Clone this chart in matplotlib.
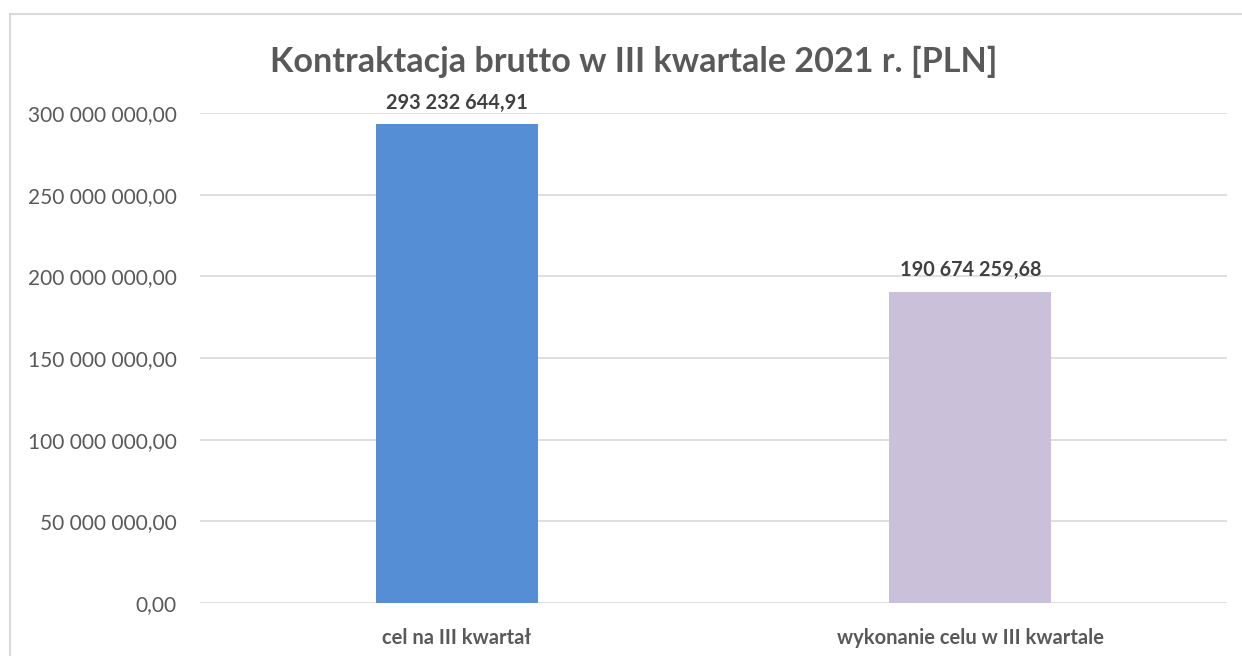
import matplotlib
matplotlib.use("Agg")
import matplotlib.pyplot as plt
from matplotlib.lines import Line2D

categories = ["cel na III kwartał", "wykonanie celu w III kwartale"]
values = [293232644.91, 190674259.68]
colors = ["#558ED5", "#CBC0DA"]
yticks = [0, 50e6, 100e6, 150e6, 200e6, 250e6, 300e6]
title = "Kontraktacja brutto w III kwartale 2021 r. [PLN]"

plt.rcParams['font.family'] = ['Lato', 'DejaVu Sans']

def fmt(v):
    s = f"{v:,.2f}"
    s = s.replace(",", " ").replace(".", ",")
    return s

W, H = 1242, 656
fig = plt.figure(figsize=(W/100, H/100), dpi=100)
ax = fig.add_axes([200/W, 1-603/H, (1227-200)/W, (603-113)/H])

x = list(range(len(categories)))
ax.bar(x, values, width=0.315, color=colors, zorder=3)
ax.set_xlim(-0.5, len(categories)-0.5)
ax.set_ylim(0, 300e6)
ax.set_yticks(yticks)
ax.set_yticklabels([fmt(v) for v in yticks], fontsize=15, color="#595959")
ax.set_xticks(x)
ax.set_xticklabels(categories, fontsize=14.5, fontweight="bold", color="#595959")
ax.tick_params(axis='both', length=0)
ax.tick_params(axis='y', pad=17)
ax.tick_params(axis='x', pad=18)
ax.grid(axis='y', color="#D9D9D9", lw=1.2, zorder=0)
for s in ax.spines.values():
    s.set_visible(False)

for xi, v in zip(x, values):
    ax.annotate(fmt(v), (xi, v), xytext=(0, 8), textcoords='offset points',
                ha='center', va='bottom', fontsize=14.3, fontweight='bold', color="#404040")

fig.text(634/W, 1-62/H, title, ha='center', va='center', fontsize=24.6,
         fontweight='bold', color="#595959")

# chart border
bx0, by0, bx1 = 9.5/W, 1-14/H, 1241/W
fig.add_artist(Line2D([bx0, bx0], [by0, -0.1], color="#D9D9D9", lw=1.5, transform=fig.transFigure))
fig.add_artist(Line2D([bx0, bx1], [by0, by0], color="#D9D9D9", lw=1.5, transform=fig.transFigure))

fig.savefig("out.png", dpi=100, facecolor="white")
